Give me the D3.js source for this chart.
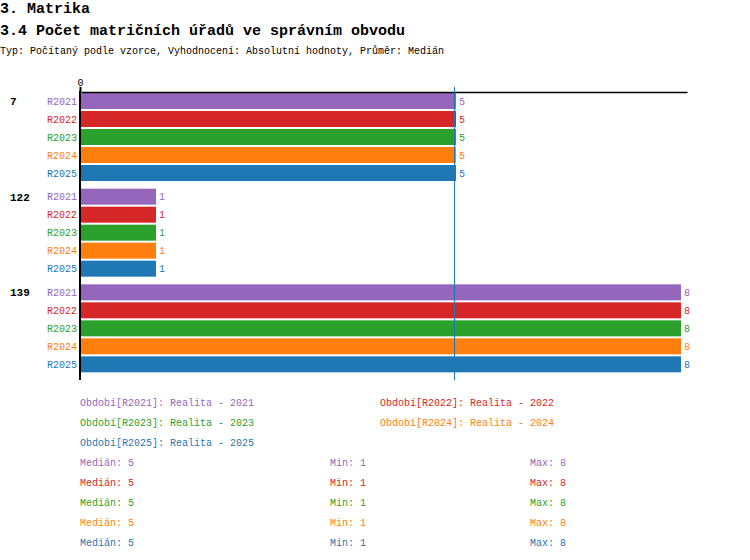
<!DOCTYPE html>
<html>
<head>
<meta charset="utf-8">
<script src="https://cdn.jsdelivr.net/npm/d3@7"></script>
<style>
  body { margin: 0; background: #fff; }
  text { font-family: "Liberation Mono", "DejaVu Sans Mono", monospace; }
</style>
</head>
<body>
<div id="chart"></div>
<script>
// data ////////////////////////////////////////////////////////////////
const groups = ['7', '122', '139'];
const periods = ['R2021', 'R2022', 'R2023', 'R2024', 'R2025'];
const periodNames = ['Realita - 2021', 'Realita - 2022', 'Realita - 2023', 'Realita - 2024', 'Realita - 2025'];
const values = [
  [5, 5, 5, 5, 5],   // 7
  [1, 1, 1, 1, 1],   // 122
  [8, 8, 8, 8, 8]    // 139
];
const medians = [5, 5, 5, 5, 5];
const mins = [1, 1, 1, 1, 1];
const maxs = [8, 8, 8, 8, 8];
const colors = ['#9467bd', '#d62728', '#2ca02c', '#ff7f0e', '#1f77b4'];

const width = 750, height = 560;

const svg = d3.select('#chart').append('svg')
  .attr('width', width)
  .attr('height', height);

// titles //////////////////////////////////////////////////////////////
svg.append('text').attr('x', 0).attr('y', 13)
  .attr('font-size', 15).attr('font-weight', 'bold').text('3. Matrika');
svg.append('text').attr('x', 0).attr('y', 35)
  .attr('font-size', 15).attr('font-weight', 'bold').text('3.4 Počet matričních úřadů ve správním obvodu');
svg.append('text').attr('x', 0).attr('y', 54)
  .attr('font-size', 10).text('Typ: Počítaný podle vzorce, Vyhodnocení: Absolutní hodnoty, Průměr: Medián');

// scales //////////////////////////////////////////////////////////////
const allValues = values.flat();
const x = d3.scaleLinear().domain([0, d3.max(allValues) * 1.01]).range([81, 687]);
const yGroup = d3.scaleBand().domain(groups).range([92, 379]);
const ySeries = d3.scaleBand().domain(periods).range([1, 89]).paddingInner(1 / 9);

// bars ////////////////////////////////////////////////////////////////
const g = svg.selectAll('g.group')
  .data(groups)
  .join('g')
  .attr('class', 'group')
  .attr('transform', d => `translate(0,${yGroup(d)})`);

g.append('text')
  .attr('x', 10)
  .attr('y', ySeries(periods[0]) + ySeries.bandwidth() / 2)
  .attr('dy', '0.35em')
  .attr('font-size', 11)
  .attr('font-weight', 'bold')
  .text(d => d);

const rows = g.selectAll('g.row')
  .data((d, gi) => periods.map((p, i) => ({ p, i, v: values[gi][i] })))
  .join('g')
  .attr('class', 'row')
  .attr('transform', d => `translate(0,${ySeries(d.p)})`);

rows.append('rect')
  .attr('x', x(0))
  .attr('y', 0)
  .attr('width', d => x(d.v) - x(0))
  .attr('height', ySeries.bandwidth())
  .attr('fill', d => colors[d.i]);

rows.append('text')
  .attr('x', 77)
  .attr('y', ySeries.bandwidth() / 2)
  .attr('dy', '0.35em')
  .attr('text-anchor', 'end')
  .attr('font-size', 10)
  .attr('fill', d => colors[d.i])
  .text(d => d.p);

rows.append('text')
  .attr('x', d => x(d.v) + 3)
  .attr('y', ySeries.bandwidth() / 2)
  .attr('dy', '0.35em')
  .attr('font-size', 10)
  .attr('fill', d => colors[d.i])
  .text(d => d.v);

// axes ////////////////////////////////////////////////////////////////
const xAxis = svg.append('g')
  .attr('transform', 'translate(0,92)')
  .call(d3.axisTop(x).tickValues([0]).tickSize(5).tickSizeOuter(0));
xAxis.select('.domain').attr('stroke', '#000').attr('stroke-width', 1.5);
xAxis.selectAll('.tick line').attr('transform', 'translate(-1,0)').attr('stroke-width', 2);
xAxis.selectAll('.tick text')
  .attr('font-family', '"Liberation Mono", monospace')
  .attr('font-size', 10)
  .attr('transform', 'translate(-1,0)')
  .attr('dy', '0.2em');

svg.append('line')
  .attr('x1', 80).attr('x2', 80)
  .attr('y1', 91).attr('y2', 380)
  .attr('stroke', '#000').attr('stroke-width', 2);

// median line
svg.append('line')
  .attr('x1', x(medians[4]) - 1.5).attr('x2', x(medians[4]) - 1.5)
  .attr('y1', 87).attr('y2', 380)
  .attr('stroke', colors[4]).attr('stroke-width', 1);

// legend //////////////////////////////////////////////////////////////
const legend = svg.append('g');
legend.selectAll('text')
  .data(periods)
  .join('text')
  .attr('x', (d, i) => i % 2 === 0 ? 80 : 380)
  .attr('y', (d, i) => 402 + Math.floor(i / 2) * 20)
  .attr('dy', '0.35em')
  .attr('font-size', 10)
  .attr('fill', (d, i) => colors[i])
  .text((d, i) => `Období[${d}]: ${periodNames[i]}`);

const stats = svg.append('g');
periods.forEach((p, i) => {
  const yy = 462 + i * 20;
  stats.append('text').attr('x', 80).attr('y', yy).attr('dy', '0.35em')
    .attr('font-size', 10).attr('fill', colors[i]).text(`Medián: ${medians[i]}`);
  stats.append('text').attr('x', 330).attr('y', yy).attr('dy', '0.35em')
    .attr('font-size', 10).attr('fill', colors[i]).text(`Min: ${mins[i]}`);
  stats.append('text').attr('x', 530).attr('y', yy).attr('dy', '0.35em')
    .attr('font-size', 10).attr('fill', colors[i]).text(`Max: ${maxs[i]}`);
});
</script>
</body>
</html>
